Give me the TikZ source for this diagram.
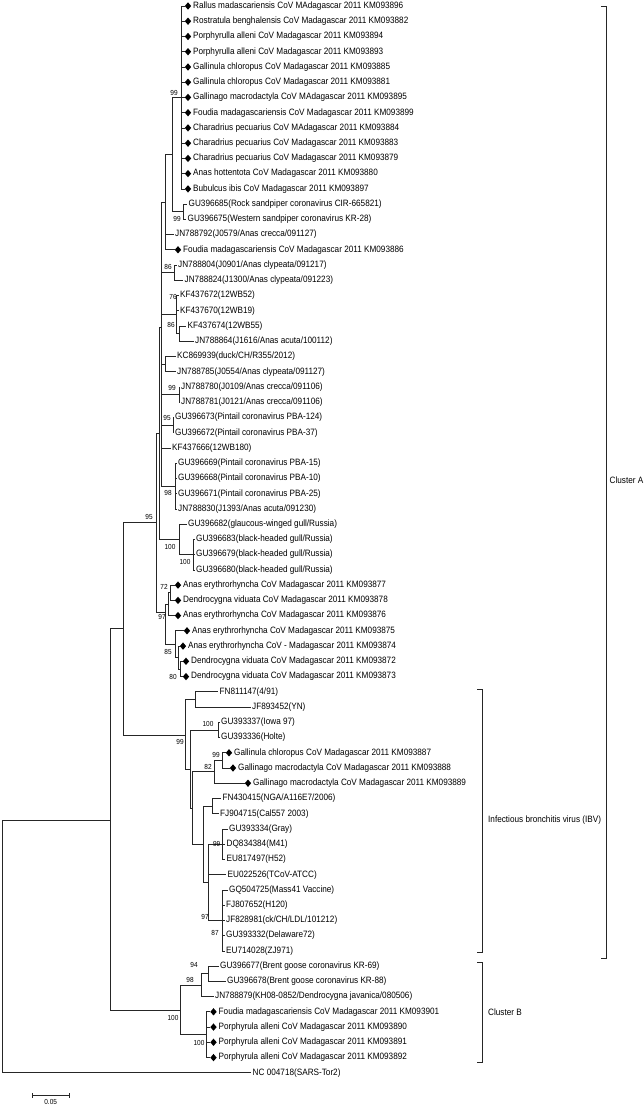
\documentclass[tikz,border=0pt]{standalone}
\usepackage{fontspec}
\setmainfont{Liberation Sans}[FakeStretch=0.89]
\usetikzlibrary{shapes.geometric}
\newcommand\PL[4]{\coordinate (#1) at (#2,#3); \node[lf] (#1t) at ([xshift=1.5pt]#1) {#4};}
\newcommand\DL[4]{\coordinate (#1) at (#2,#3); \node[dia] (#1d) at ([xshift=3.5pt]#1) {}; \node[lf] (#1t) at ([xshift=8.5pt]#1) {#4};}
\begin{document}
\begin{tikzpicture}[x=1pt,y=-1pt,
  br/.style={draw=black!85, line width=0.8pt},
  lf/.style={anchor=west, inner sep=0pt, font=\fontsize{9.2}{10}\selectfont},
  bs/.style={inner sep=0pt, font=\fontsize{7.3}{8}\selectfont},
  dia/.style={diamond, fill=black, inner sep=0pt, minimum width=6.5pt, minimum height=7.5pt},
  cl/.style={anchor=west, inner sep=0pt, font=\fontsize{9.2}{10}\selectfont}]
\useasboundingbox (0,0) rectangle (643,1106);
\fill[white] (0,0) rectangle (643,1106);
% ---------- leaves ----------
\DL{L1}{184.5}{6.0}{Rallus madascariensis CoV MAdagascar 2011 KM093896}
\DL{L2}{184.5}{21.2}{Rostratula benghalensis CoV Madagascar 2011 KM093882}
\DL{L3}{184.5}{36.5}{Porphyrulla alleni CoV Madagascar 2011 KM093894}
\DL{L4}{184.5}{51.7}{Porphyrulla alleni CoV Madagascar 2011 KM093893}
\DL{L5}{184.5}{67.0}{Gallinula chloropus CoV Madagascar 2011 KM093885}
\DL{L6}{184.5}{82.2}{Gallinula chloropus CoV Madagascar 2011 KM093881}
\DL{L7}{184.5}{97.4}{Gallinago macrodactyla CoV MAdagascar 2011 KM093895}
\DL{L8}{184.5}{112.7}{Foudia madagascariensis CoV Madagascar 2011 KM093899}
\DL{L9}{184.5}{127.9}{Charadrius pecuarius CoV MAdagascar 2011 KM093884}
\DL{L10}{184.5}{143.2}{Charadrius pecuarius CoV Madagascar 2011 KM093883}
\DL{L11}{184.5}{158.4}{Charadrius pecuarius CoV Madagascar 2011 KM093879}
\DL{L12}{184.5}{173.6}{Anas hottentota CoV Madagascar 2011 KM093880}
\DL{L13}{184.5}{188.9}{Bubulcus ibis CoV Madagascar 2011 KM093897}
\PL{L14}{187}{204.1}{GU396685(Rock sandpiper coronavirus CIR-665821)}
\PL{L15}{186}{219.4}{GU396675(Western sandpiper coronavirus KR-28)}
\PL{L16}{173.5}{234.6}{JN788792(J0579/Anas crecca/091127)}
\DL{L17}{174.5}{249.8}{Foudia madagascariensis CoV Madagascar 2011 KM093886}
\PL{L18}{176.5}{265.1}{JN788804(J0901/Anas clypeata/091217)}
\PL{L19}{183}{280.3}{JN788824(J1300/Anas clypeata/091223)}
\PL{L20}{178.5}{295.6}{KF437672(12WB52)}
\PL{L21}{178.5}{310.8}{KF437670(12WB19)}
\PL{L22}{186}{326.0}{KF437674(12WB55)}
\PL{L23}{193.5}{341.3}{JN788864(J1616/Anas acuta/100112)}
\PL{L24}{175.5}{356.5}{KC869939(duck/CH/R355/2012)}
\PL{L25}{175.5}{371.8}{JN788785(J0554/Anas clypeata/091127)}
\PL{L26}{179.5}{387.0}{JN788780(J0109/Anas crecca/091106)}
\PL{L27}{179.5}{402.2}{JN788781(J0121/Anas crecca/091106)}
\PL{L28}{173.5}{417.5}{GU396673(Pintail coronavirus PBA-124)}
\PL{L29}{173.5}{432.7}{GU396672(Pintail coronavirus PBA-37)}
\PL{L30}{170.5}{448.0}{KF437666(12WB180)}
\PL{L31}{176.5}{463.2}{GU396669(Pintail coronavirus PBA-15)}
\PL{L32}{176.5}{478.4}{GU396668(Pintail coronavirus PBA-10)}
\PL{L33}{176.5}{493.7}{GU396671(Pintail coronavirus PBA-25)}
\PL{L34}{176.5}{508.9}{JN788830(J1393/Anas acuta/091230)}
\PL{L35}{186.5}{524.2}{GU396682(glaucous-winged gull/Russia)}
\PL{L36}{194.5}{539.4}{GU396683(black-headed gull/Russia)}
\PL{L37}{194.5}{554.6}{GU396679(black-headed gull/Russia)}
\PL{L38}{194.5}{569.9}{GU396680(black-headed gull/Russia)}
\DL{L39}{174.5}{585.1}{Anas erythrorhyncha CoV Madagascar 2011 KM093877}
\DL{L40}{174.5}{600.4}{Dendrocygna viduata CoV Madagascar 2011 KM093878}
\DL{L41}{174.5}{615.6}{Anas erythrorhyncha CoV Madagascar 2011 KM093876}
\DL{L42}{183.5}{630.8}{Anas erythrorhyncha CoV Madagascar 2011 KM093875}
\DL{L43}{179.5}{646.1}{Anas erythrorhyncha CoV - Madagascar 2011 KM093874}
\DL{L44}{182.5}{661.3}{Dendrocygna viduata CoV Madagascar 2011 KM093872}
\DL{L45}{182.5}{676.6}{Dendrocygna viduata CoV Madagascar 2011 KM093873}
\PL{L46}{218}{691.8}{FN811147(4/91)}
\PL{L47}{250.5}{707.0}{JF893452(YN)}
\PL{L48}{219.5}{722.3}{GU393337(Iowa 97)}
\PL{L49}{219.5}{737.5}{GU393336(Holte)}
\DL{L50}{225.5}{752.8}{Gallinula chloropus CoV Madagascar 2011 KM093887}
\DL{L51}{229.5}{768.0}{Gallinago macrodactyla CoV Madagascar 2011 KM093888}
\DL{L52}{244.5}{783.2}{Gallinago macrodactyla CoV Madagascar 2011 KM093889}
\PL{L53}{221}{798.5}{FN430415(NGA/A116E7/2006)}
\PL{L54}{218.5}{813.7}{FJ904715(Cal557 2003)}
\PL{L55}{227.5}{829.0}{GU393334(Gray)}
\PL{L56}{225}{844.2}{DQ834384(M41)}
\PL{L57}{225}{859.4}{EU817497(H52)}
\PL{L58}{226}{874.7}{EU022526(TCoV-ATCC)}
\PL{L59}{227.5}{889.9}{GQ504725(Mass41 Vaccine)}
\PL{L60}{224.5}{905.2}{FJ807652(H120)}
\PL{L61}{224.5}{920.4}{JF828981(ck/CH/LDL/101212)}
\PL{L62}{224.5}{935.6}{GU393332(Delaware72)}
\PL{L63}{224.5}{950.9}{EU714028(ZJ971)}
\PL{L64}{218.5}{966.1}{GU396677(Brent goose coronavirus KR-69)}
\PL{L65}{225.5}{981.4}{GU396678(Brent goose coronavirus KR-88)}
\PL{L66}{213.5}{996.6}{JN788879(KH08-0852/Dendrocygna javanica/080506)}
\DL{L67}{210}{1011.8}{Foudia madagascariensis CoV Madagascar 2011 KM093901}
\DL{L68}{210}{1027.1}{Porphyrula alleni CoV Madagascar 2011 KM093890}
\DL{L69}{210}{1042.3}{Porphyrula alleni CoV Madagascar 2011 KM093891}
\DL{L70}{210}{1057.6}{Porphyrula alleni CoV Madagascar 2011 KM093892}
\PL{L71}{251}{1072.8}{NC 004718(SARS-Tor2)}
% ---------- internal nodes ----------
\coordinate (T1) at (181,97.4);
\coordinate (T2) at (183.5,211.7);
\coordinate (T3) at (172,154.6);
\coordinate (T4) at (165,202.2);
\coordinate (T5) at (174,272.7);
\coordinate (T6) at (176,314.6);
\coordinate (T7) at (179,333.7);
\coordinate (T8) at (165.5,364.1);
\coordinate (T9) at (179,394.6);
\coordinate (T10) at (173,425.1);
\coordinate (T11) at (175,486.0);
\coordinate (V) at (161,327);
\coordinate (G2) at (193,554.6);
\coordinate (G1) at (179,539.4);
\coordinate (U) at (159.3,433.2);
\coordinate (E1a) at (170.7,592.7);
\coordinate (E1) at (168,604.2);
\coordinate (E3) at (180,669.0);
\coordinate (E4) at (178,657.6);
\coordinate (E2) at (175,644.2);
\coordinate (E) at (165,612);
\coordinate (N95) at (156,522.6);
\coordinate (I0a) at (195,699.4);
\coordinate (I1a) at (218,729.9);
\coordinate (I99) at (222,760.4);
\coordinate (I82) at (214,771.8);
\coordinate (Q1) at (212,806.1);
\coordinate (Q2) at (222.7,844.2);
\coordinate (Q3) at (222.7,920.4);
\coordinate (Q4) at (208,882.3);
\coordinate (Q5) at (203,844.2);
\coordinate (I1b) at (192,808);
\coordinate (I1) at (190,769);
\coordinate (I0) at (185.7,735.2);
\coordinate (C) at (123.3,628.8);
\coordinate (B2) at (208.3,973.8);
\coordinate (B1) at (201.7,985.2);
\coordinate (B3) at (206,1034.7);
\coordinate (B0) at (180.7,1010);
\coordinate (M) at (110,820);
\coordinate (R) at (2,946);
% ---------- branches ----------
\foreach \i in {1,...,13} \draw[br] (T1) |- (L\i);
\draw[br] (T2) |- (L14); \draw[br] (T2) |- (L15);
\draw[br] (T3) |- (T1); \draw[br] (T3) |- (T2);
\draw[br] (T4) |- (T3); \draw[br] (T4) |- (L16); \draw[br] (T4) |- (L17);
\draw[br] (T5) |- (L18); \draw[br] (T5) |- (L19);
\draw[br] (T7) |- (L22); \draw[br] (T7) |- (L23);
\draw[br] (T6) |- (L20); \draw[br] (T6) |- (L21); \draw[br] (T6) |- (T7);
\draw[br] (T8) |- (L24); \draw[br] (T8) |- (L25);
\draw[br] (T9) |- (L26); \draw[br] (T9) |- (L27);
\draw[br] (T10) |- (L28); \draw[br] (T10) |- (L29);
\foreach \i in {31,...,34} \draw[br] (T11) |- (L\i);
\foreach \c in {T4,T5,T6,T8,T9,T10,L30,T11} \draw[br] (V) |- (\c);
\foreach \i in {36,37,38} \draw[br] (G2) |- (L\i);
\draw[br] (G1) |- (L35); \draw[br] (G1) |- (G2);
\draw[br] (U) |- (V); \draw[br] (U) |- (G1);
\draw[br] (E1a) |- (L39); \draw[br] (E1a) |- (L40);
\draw[br] (E1) |- (E1a); \draw[br] (E1) |- (L41);
\draw[br] (E3) |- (L44); \draw[br] (E3) |- (L45);
\draw[br] (E4) |- (L43); \draw[br] (E4) |- (E3);
\draw[br] (E2) |- (L42); \draw[br] (E2) |- (E4);
\draw[br] (E) |- (E1); \draw[br] (E) |- (E2);
\draw[br] (N95) |- (U); \draw[br] (N95) |- (E);
\draw[br] (I0a) |- (L46); \draw[br] (I0a) |- (L47);
\draw[br] (I1a) |- (L48); \draw[br] (I1a) |- (L49);
\draw[br] (I99) |- (L50); \draw[br] (I99) |- (L51);
\draw[br] (I82) |- (I99); \draw[br] (I82) |- (L52);
\draw[br] (Q1) |- (L53); \draw[br] (Q1) |- (L54);
\foreach \i in {55,56,57} \draw[br] (Q2) |- (L\i);
\foreach \i in {59,...,63} \draw[br] (Q3) |- (L\i);
\draw[br] (Q4) |- (Q2); \draw[br] (Q4) |- (L58); \draw[br] (Q4) |- (Q3);
\draw[br] (Q5) |- (Q1); \draw[br] (Q5) |- (Q4);
\draw[br] (I1b) |- (I82); \draw[br] (I1b) |- (Q5);
\draw[br] (I1) |- (I1a); \draw[br] (I1) |- (I1b);
\draw[br] (I0) |- (I0a); \draw[br] (I0) |- (I1);
\draw[br] (C) |- (N95); \draw[br] (C) |- (I0);
\draw[br] (B2) |- (L64); \draw[br] (B2) |- (L65);
\draw[br] (B1) |- (B2); \draw[br] (B1) |- (L66);
\foreach \i in {67,...,70} \draw[br] (B3) |- (L\i);
\draw[br] (B0) |- (B1); \draw[br] (B0) |- (B3);
\draw[br] (M) |- (C); \draw[br] (M) |- (B0);
\draw[br] (R) |- (M); \draw[br] (R) |- (L71);
% ---------- bootstrap values ----------
\node[bs] (s1) at (174,93) {99};
\node[bs] (s2) at (177,219) {99};
\node[bs] (s3) at (168,267) {86};
\node[bs] (s4) at (173,297) {76};
\node[bs] (s5) at (171,325) {86};
\node[bs] (s6) at (172,388) {99};
\node[bs] (s7) at (167,418) {95};
\node[bs] (s8) at (168,493) {98};
\node[bs] (s9) at (149,517) {95};
\node[bs] (s10) at (170,547) {100};
\node[bs] (s11) at (185,562) {100};
\node[bs] (s12) at (164,587) {72};
\node[bs] (s13) at (162,617) {97};
\node[bs] (s14) at (168,652) {85};
\node[bs] (s15) at (173,677) {80};
\node[bs] (s16) at (180,742) {99};
\node[bs] (s17) at (208,724) {100};
\node[bs] (s18) at (216,755) {99};
\node[bs] (s19) at (208,767) {82};
\node[bs] (s20) at (216.7,844) {99};
\node[bs] (s21) at (205,917) {97};
\node[bs] (s22) at (215,933) {87};
\node[bs] (s23) at (194,965) {94};
\node[bs] (s24) at (190,980) {98};
\node[bs] (s25) at (173,1018) {100};
\node[bs] (s26) at (199,1043) {100};
% ---------- clade brackets ----------
\coordinate (ca1) at (601,6); \coordinate (ca2) at (601,958);
\draw[br] (ca1) -- ++(5,0) |- (ca2);
\node[cl] (cA) at (609.5,480) {Cluster A};
\coordinate (ib1) at (477,689); \coordinate (ib2) at (477,952);
\draw[br] (ib1) -- ++(5,0) |- (ib2);
\node[cl] (cI) at (488,820) {Infectious bronchitis virus (IBV)};
\coordinate (cb1) at (477,962); \coordinate (cb2) at (477,1062);
\draw[br] (cb1) -- ++(5,0) |- (cb2);
\node[cl] (cB) at (488,1012) {Cluster B};
% ---------- scale bar ----------
\coordinate (sb1) at (32.3,1095); \coordinate (sb2) at (69.3,1095);
\draw[br] (sb1) -- (sb2);
\draw[br] ([yshift=-2.5pt]sb1) -- ([yshift=2.5pt]sb1);
\draw[br] ([yshift=-2.5pt]sb2) -- ([yshift=2.5pt]sb2);
\node[bs] (sbl) at (50.7,1102) {0.05};
\end{tikzpicture}
\end{document}
